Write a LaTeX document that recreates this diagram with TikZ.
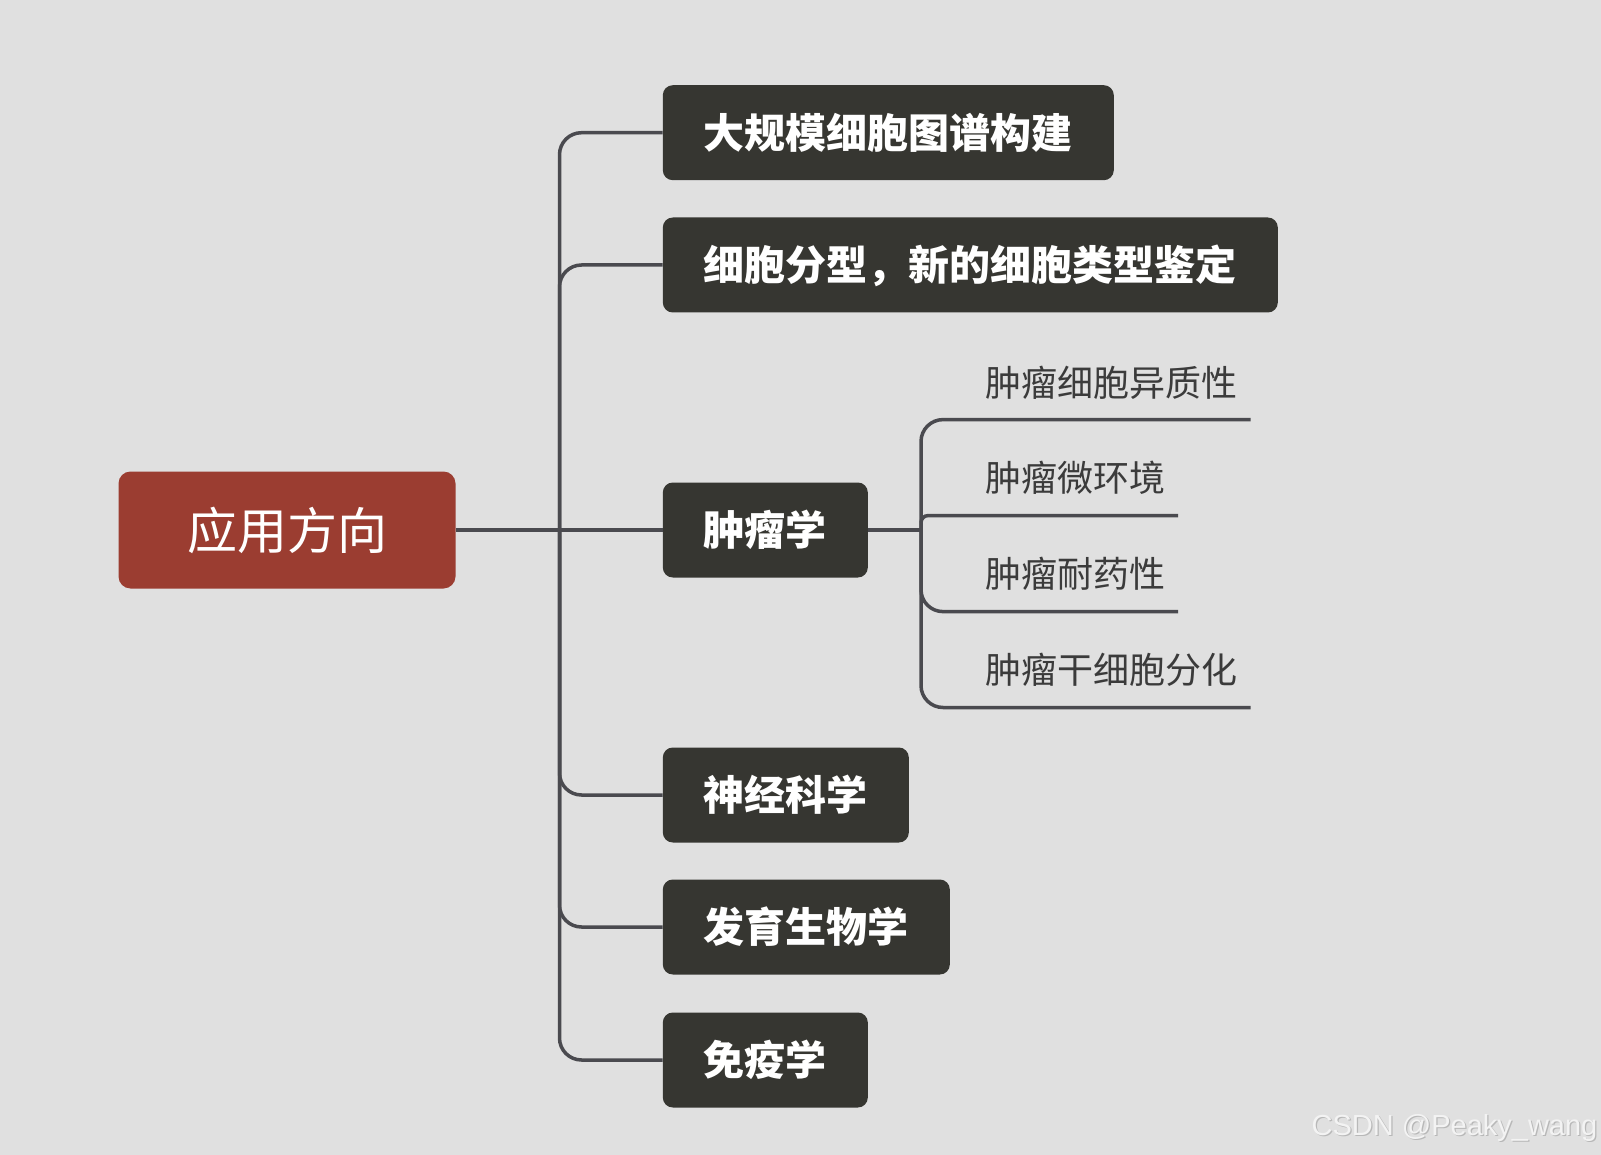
\documentclass[tikz,border=0pt]{standalone}
\usepackage{fontspec}
\setmainfont{Liberation Sans}
\newfontfamily\cjk{Noto Sans CJK SC}
\definecolor{bgc}{HTML}{E0E0E0}
\definecolor{rootc}{HTML}{9B3D31}
\definecolor{boxc}{HTML}{363631}
\definecolor{linec}{HTML}{4A4A4F}
\definecolor{subc}{HTML}{3B3B3B}
\definecolor{wmc}{HTML}{F3F3F3}
\definecolor{wms}{HTML}{B8B8B8}
\begin{document}
\begin{tikzpicture}[x=1pt,y=-1pt,
  rootbox/.style={fill=rootc, text=white, rounded corners=12pt, minimum width=337pt,
    minimum height=117pt, inner sep=0pt, font=\cjk\fontsize{50}{50}\selectfont,
    text height=40pt, text depth=2pt},
  branchbox/.style={fill=boxc, text=white, rounded corners=10pt, minimum height=95pt,
    inner xsep=41pt, inner ysep=0pt, font=\cjk\bfseries\fontsize{41}{41}\selectfont,
    text height=32.8pt, text depth=1.6pt, anchor=west},
  subtext/.style={text=subc, inner sep=0pt, anchor=west,
    font=\cjk\fontsize{36}{36}\selectfont, text height=28.8pt, text depth=1.44pt},
  conn/.style={draw=linec, line width=3.5pt}]
\fill[bgc] (0,0) rectangle (1601,1155);
\useasboundingbox (0,0) rectangle (1601,1155);

\node[rootbox] (r) at (287,530) {应用方向};
\coordinate (J) at (559.5,530);
\node[branchbox] (b1) at (662.6,132.7) {大规模细胞图谱构建};
\node[branchbox] (b2) at (662.6,265) {细胞分型，新的细胞类型鉴定};
\node[branchbox] (b3) at (662.6,530) {肿瘤学};
\node[branchbox] (b4) at (662.6,795) {神经科学};
\node[branchbox] (b5) at (662.6,927) {发育生物学};
\node[branchbox] (b6) at (662.6,1060) {免疫学};

\draw[conn] (r.east) -- (b3.west);
\foreach \b in {b1,b2,b4,b5,b6} \draw[conn, rounded corners=22pt] (J) |- (\b.west);

\coordinate (K) at (921,530);
\draw[conn] (b3.east) -- (K);
\coordinate (e1) at (1250.7,419.6);
\coordinate (e2) at (1178.2,515.6);
\coordinate (e3) at (1178.2,611.6);
\coordinate (e4) at (1250.7,707.5);
\draw[conn, rounded corners=22pt] (K) |- (e1);
\draw[conn, rounded corners=22pt] (K) |- (e4);
\draw[conn, rounded corners=7pt] (K) |- (e2);
\draw[conn, rounded corners=22pt] (K) |- (e3);

\node[subtext] (s1) at (985.3,383) {肿瘤细胞异质性};
\node[subtext] (s2) at (985.3,478) {肿瘤微环境};
\node[subtext] (s3) at (985.3,574) {肿瘤耐药性};
\node[subtext] (s4) at (985.3,670) {肿瘤干细胞分化};

\node[anchor=base west, inner sep=0pt, text=wmc, font=\fontsize{29}{29}\selectfont] (wm) at (1311.5,1135)
  {\rlap{\textcolor{wms}{\hspace{1.2pt}\raisebox{-1.2pt}{CSDN @Peaky\_wang}}}CSDN @Peaky\_wang};
\end{tikzpicture}
\end{document}
